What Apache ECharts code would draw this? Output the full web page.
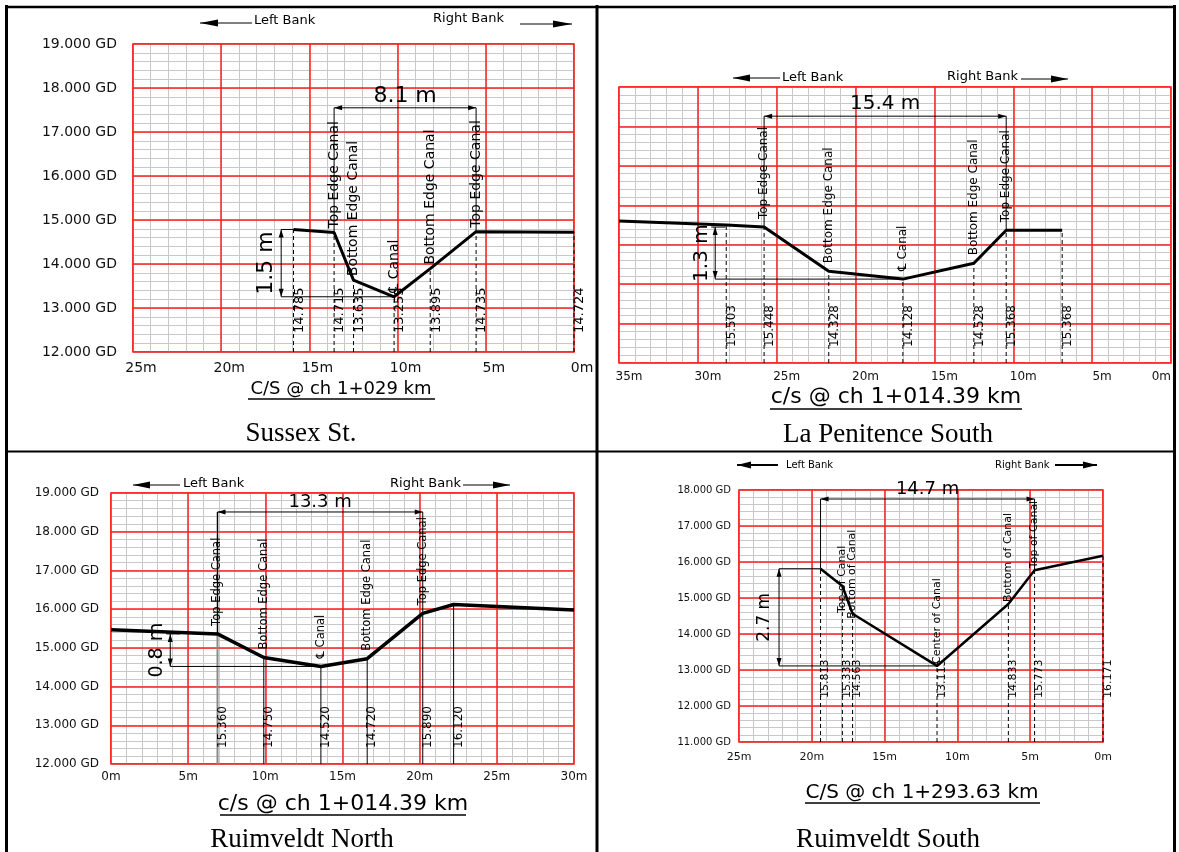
<!DOCTYPE html>
<html><head><meta charset="utf-8">
<script src="https://cdn.jsdelivr.net/npm/echarts@6/dist/echarts.min.js"></script>
<style>html,body{margin:0;padding:0;background:#fff}#c{width:1179px;height:852px}</style>
</head><body><div id="c"></div>
<script>
// ---------- Panel 1 : Sussex St. ----------
const p1Dist  = [15.9, 13.6, 12.5, 10.2, 8.15, 5.55, 0];
const p1Elev  = [14.785, 14.715, 13.635, 13.255, 13.895, 14.735, 14.724];
const p1Tags  = ['14.785', '14.715', '13.635', '13.255', '13.895', '14.735', '14.724'];
const p1Notes = ['', 'Top Edge Canal', 'Bottom Edge Canal', '\u2104 Canal', 'Bottom Edge Canal', 'Top Edge Canal', ''];
const p1XTicks = [0, 5, 10, 15, 20, 25];
const p1YTicks = [12, 13, 14, 15, 16, 17, 18, 19];
const p1Dims  = ['8.1 m', '1.5 m'];

// ---------- Panel 2 : La Penitence South ----------
const p2Dist  = [35, 28.2, 25.8, 21.7, 17.0, 12.5, 10.45, 6.9];
const p2Elev  = [15.6, 15.503, 15.448, 14.328, 14.128, 14.528, 15.368, 15.368];
const p2Tags  = ['', '15.503', '15.448', '14.328', '14.128', '14.528', '15.368', '15.368'];
const p2Notes = ['', '', 'Top Edge Canal', 'Bottom Edge Canal', '\u2104 Canal', 'Bottom Edge Canal', 'Top Edge Canal', ''];
const p2XTicks = [0, 5, 10, 15, 20, 25, 30, 35];
const p2YTicks = [12, 13, 14, 15, 16, 17, 18, 19];
const p2Dims  = ['15.4 m', '1.3 m'];

// ---------- Panel 3 : Ruimveldt North ----------
const p3Dist  = [0, 6.9, 9.9, 13.6, 16.6, 20.2, 22.2, 30];
const p3Elev  = [15.47, 15.36, 14.75, 14.52, 14.72, 15.89, 16.12, 15.98];
const p3Tags  = ['', '15.360', '14.750', '14.520', '14.720', '15.890', '16.120', ''];
const p3Notes = ['', 'Top Edge Canal', 'Bottom Edge Canal', '\u2104 Canal', 'Bottom Edge Canal', 'Top Edge Canal', '', ''];
const p3XTicks = [0, 5, 10, 15, 20, 25, 30];
const p3YTicks = [12, 13, 14, 15, 16, 17, 18, 19];
const p3Dims  = ['13.3 m', '0.8 m'];

// ---------- Panel 4 : Ruimveldt South ----------
const p4Dist  = [19.4, 17.9, 17.2, 11.4, 6.5, 4.7, 0];
const p4Elev  = [15.813, 15.333, 14.563, 13.113, 14.833, 15.773, 16.171];
const p4Tags  = ['15.813', '15.333', '14.563', '13.113', '14.833', '15.773', '16.171'];
const p4Notes = ['', 'Top of Canal', 'Bottom of Canal', 'Center of Canal', 'Bottom of Canal', 'Top of Canal', ''];
const p4XTicks = [0, 5, 10, 15, 20, 25];
const p4YTicks = [11, 12, 13, 14, 15, 16, 17, 18];
const p4Dims  = ['14.7 m', '2.7 m'];

const RED = '#ff1f1f', GREY = '#c8c8c8';
const SANS = '"DejaVu Sans", Verdana, sans-serif';
const SERIF = '"Liberation Serif", "Times New Roman", serif';

const panels = [
  { dist: p1Dist, elev: p1Elev, tags: p1Tags, notes: p1Notes, xTicks: p1XTicks, yTicks: p1YTicks, dims: p1Dims,
    inverse: true, grid: { left: 133, top: 44, width: 441, height: 308 },
    yLab: { show: true, size: 14, margin: 16 }, xLab: { size: 14, margin: 9, pad: 16 },
    lineW: 3, dashed: true, tagFont: 13, tagDx: 6, tagDy: 19, noteFont: 14, noteGap: 4, noteShift: {},
    wdim: { from: 1, to: 5, level: 17.55, font: 22, off: 12 },
    ddim: { top: 0, bottom: 3, at: 16.6, font: 22, off: 15, tick: false } },
  { dist: p2Dist, elev: p2Elev, tags: p2Tags, notes: p2Notes, xTicks: p2XTicks, yTicks: p2YTicks, dims: p2Dims,
    inverse: true, grid: { left: 619, top: 87, width: 552, height: 276 },
    yLab: { show: false }, xLab: { size: 12, margin: 8, pad: 20, alignMax: 'right' },
    lineW: 3, dashed: true, tagFont: 12, tagDx: 6, tagDy: 16, noteFont: 12, noteGap: 8, noteShift: {},
    wdim: { from: 2, to: 6, level: 18.26, font: 20, off: 12 },
    ddim: { top: 2, bottom: 4, at: 28.9, font: 20, off: 13, tick: true } },
  { dist: p3Dist, elev: p3Elev, tags: p3Tags, notes: p3Notes, xTicks: p3XTicks, yTicks: p3YTicks, dims: p3Dims,
    inverse: false, grid: { left: 111, top: 493, width: 463, height: 271 },
    yLab: { show: true, size: 12, margin: 12 }, xLab: { size: 12, margin: 7, pad: 0 },
    lineW: 3.5, dashed: false, greyIdx: 1, tagFont: 12, tagDx: 5, tagDy: 16, noteFont: 11.5, noteGap: 8, noteShift: {},
    wdim: { from: 1, to: 5, level: 18.51, font: 18, off: 10 },
    ddim: { top: 1, bottom: 3, at: 3.84, font: 19, off: 13, tick: true } },
  { dist: p4Dist, elev: p4Elev, tags: p4Tags, notes: p4Notes, xTicks: p4XTicks, yTicks: p4YTicks, dims: p4Dims,
    inverse: true, grid: { left: 739, top: 490, width: 364, height: 252 },
    yLab: { show: true, size: 10, margin: 8 }, xLab: { size: 11, margin: 10, pad: 0 },
    lineW: 2.5, dashed: true, tagFont: 11, tagDx: 5, tagDy: 44, noteFont: 11, noteGap: 2, noteShift: { 1: -29, 2: -7 },
    wdim: { from: 0, to: 5, level: 17.75, font: 18, off: 10 },
    ddim: { top: 0, bottom: 3, at: 22.25, font: 17, off: 14, tick: false } }
];

function seg(x1, y1, x2, y2, st) {
  return { type: 'line', shape: { x1, y1, x2, y2 }, style: Object.assign({ stroke: '#000', lineWidth: 1 }, st || {}) };
}
function head(tx, ty, fx, fy, len, half) {
  const dx = tx - fx, dy = ty - fy, L = Math.hypot(dx, dy) || 1, ux = dx / L, uy = dy / L;
  const bx = tx - ux * len, by = ty - uy * len;
  return { type: 'polygon', shape: { points: [[tx, ty], [bx - uy * half, by + ux * half], [bx + uy * half, by - ux * half]] }, style: { fill: '#000' } };
}
function vtext(x, y, text, size, align) {
  return { type: 'text', x, y, rotation: Math.PI / 2,
    style: { text, fontSize: size, fontFamily: SANS, fill: '#000', align: align || 'left', textAlign: align || 'left', verticalAlign: 'middle', textVerticalAlign: 'middle' } };
}

const option = { animation: false, backgroundColor: '#fff', grid: [], xAxis: [], yAxis: [], series: [], graphic: { elements: [] } };
const hidden = { axisLine: { show: false }, axisTick: { show: false }, axisLabel: { show: false } };

panels.forEach((P, k) => {
  // right-to-left chainage is drawn on a negated axis (labels show the distance)
  const X = d => (P.inverse ? -d : d);
  option.grid.push(Object.assign({ show: true, borderColor: RED, borderWidth: 1.5, backgroundColor: '#fff' }, P.grid));
  const xs = P.xTicks, ys = P.yTicks;
  const xmin = P.inverse ? -xs[xs.length - 1] : xs[0];
  const xmax = P.inverse ? -xs[0] : xs[xs.length - 1];
  const xi = xs[1] - xs[0], yi = ys[1] - ys[0];
  // main axes (red grid + labels) : index 2k ; minor axes (grey grid) : index 2k+1
  option.xAxis.push({
    type: 'value', gridIndex: k, position: 'bottom', z: 2, min: xmin, max: xmax, interval: xi,
    axisLine: { show: false }, axisTick: { show: false },
    splitLine: { show: true, lineStyle: { color: RED, width: 1.5 } },
    axisLabel: { show: true, fontSize: P.xLab.size, fontFamily: SANS, color: '#111', margin: P.xLab.margin,
      padding: [0, 0, 0, P.xLab.pad], formatter: v => Math.abs(v) + 'm', alignMaxLabel: P.xLab.alignMax || null }
  });
  option.xAxis.push(Object.assign({
    type: 'value', gridIndex: k, position: 'top', z: 1, min: xmin, max: xmax, interval: xi / 5,
    splitLine: { show: true, lineStyle: { color: GREY, width: 1 } } }, hidden));
  option.yAxis.push({
    type: 'value', gridIndex: k, position: 'left', z: 2, min: ys[0], max: ys[ys.length - 1], interval: yi,
    axisLine: { show: false }, axisTick: { show: false },
    splitLine: { show: true, lineStyle: { color: RED, width: 1.5 } },
    axisLabel: { show: P.yLab.show, fontSize: P.yLab.size, fontFamily: SANS, color: '#111', margin: P.yLab.margin,
      formatter: v => v.toFixed(3) + ' GD' }
  });
  option.yAxis.push(Object.assign({
    type: 'value', gridIndex: k, position: 'right', z: 1, min: ys[0], max: ys[ys.length - 1], interval: yi / 5,
    splitLine: { show: true, lineStyle: { color: GREY, width: 1 } } }, hidden));

  const ax = 2 * k;
  const yMin = ys[0];
  const pts = P.dist.map((d, i) => [X(d), P.elev[i]]);
  // vertical reference lines, elevation tags and notes
  option.series.push({
    type: 'custom', xAxisIndex: ax, yAxisIndex: ax, z: 3, silent: true, data: pts,
    renderItem: (params, api) => {
      const i = params.dataIndex;
      const pt = api.coord([api.value(0), api.value(1)]);
      const base = api.coord([api.value(0), yMin]);
      const ch = [];
      if (P.tags[i]) {
        let st = P.dashed ? { lineDash: [4, 3] } : {};
        let topY = pt[1];
        if (P.greyIdx === i) {
          st = { stroke: '#8a8a8a', lineWidth: 2 };
          topY = api.coord([api.value(0), P.wdim.level])[1];
        }
        ch.push(seg(pt[0], base[1], pt[0], topY, st));
        ch.push(vtext(pt[0] + P.tagDx, base[1] - P.tagDy, P.tags[i], P.tagFont, 'left'));
      }
      if (P.notes[i]) ch.push(vtext(pt[0], pt[1] - P.noteGap - (P.noteShift[i] || 0), P.notes[i], P.noteFont, 'left'));
      return { type: 'group', children: ch };
    }
  });
  // dimension lines
  option.series.push({
    type: 'custom', xAxisIndex: ax, yAxisIndex: ax, z: 4, silent: true, data: [[0, 0]],
    renderItem: (params, api) => {
      const ch = [], w = P.wdim, d = P.ddim;
      const a = api.coord([X(P.dist[w.from]), w.level]), b = api.coord([X(P.dist[w.to]), w.level]);
      const pa = api.coord(pts[w.from]), pb = api.coord(pts[w.to]);
      ch.push(seg(pa[0], pa[1], a[0], a[1]), seg(pb[0], pb[1], b[0], b[1]), seg(a[0], a[1], b[0], b[1]));
      ch.push(head(a[0], a[1], b[0], b[1], 8, 2.5), head(b[0], b[1], a[0], a[1], 8, 2.5));
      ch.push({ type: 'text', x: (a[0] + b[0]) / 2, y: a[1] - w.off,
        style: { text: P.dims[0], fontSize: w.font, fontFamily: SANS, fill: '#000', align: 'center', textAlign: 'center', verticalAlign: 'middle', textVerticalAlign: 'middle' } });
      const t = api.coord([X(d.at), P.elev[d.top]]), bt = api.coord([X(d.at), P.elev[d.bottom]]);
      const pt = api.coord(pts[d.top]), pbt = api.coord(pts[d.bottom]);
      ch.push(seg(t[0], t[1], bt[0], bt[1]));
      ch.push(head(t[0], t[1], bt[0], bt[1], 8, 2.5), head(bt[0], bt[1], t[0], t[1], 8, 2.5));
      ch.push(d.tick ? seg(t[0] - 4, t[1], t[0] + 10, t[1]) : seg(t[0], t[1], pt[0], pt[1]));
      ch.push(seg(bt[0], bt[1], pbt[0], pbt[1]));
      ch.push(vtext(t[0] - d.off, (t[1] + bt[1]) / 2, P.dims[1], d.font, 'center'));
      return { type: 'group', children: ch };
    }
  });
  // ground profile
  option.series.push({
    type: 'line', xAxisIndex: ax, yAxisIndex: ax, z: 5, silent: true, symbol: 'none', data: pts,
    lineStyle: { color: '#000', width: P.lineW }
  });
});

// ---- page furniture (borders, bank arrows, captions) ----
const G = option.graphic.elements;
function gline(x1, y1, x2, y2, lw) { G.push({ type: 'line', shape: { x1, y1, x2, y2 }, style: { stroke: '#000', lineWidth: lw || 1 } }); }
function gtext(x, y, text, size, fam, align) {
  G.push({ type: 'text', x, y, style: { text, fontSize: size, fontFamily: fam, fill: '#000', align: align || 'left', textAlign: align || 'left', verticalAlign: 'middle', textVerticalAlign: 'middle' } });
}
function garrow(x1, x2, y, left, len, half, lw) {
  gline(x1, y, x2, y, lw || 1);
  const tx = left ? x1 : x2, bx = left ? x1 + len : x2 - len;
  G.push({ type: 'polygon', shape: { points: [[tx, y], [bx, y - half], [bx, y + half]] }, style: { fill: '#000' } });
}
gline(6.5, 5, 6.5, 852, 3);
gline(5, 7, 1176, 7, 2.5);
gline(1174.5, 5, 1174.5, 852, 3);
gline(597, 5, 597, 852, 3);
gline(5, 451.5, 1176, 451.5, 2);

// bank arrows
garrow(200, 252, 23, true, 18, 3.5); gtext(254, 21, 'Left Bank', 13, SANS);
gtext(433, 19, 'Right Bank', 13, SANS); garrow(520, 572, 24, false, 19, 3.5);
garrow(733, 780, 78, true, 17, 3.5); gtext(782, 78, 'Left Bank', 13, SANS);
gtext(947, 77, 'Right Bank', 13, SANS); garrow(1021, 1068, 79, false, 17, 3.5);
garrow(133, 180, 485, true, 17, 3.5); gtext(183, 484, 'Left Bank', 13, SANS);
gtext(390, 484, 'Right Bank', 13, SANS); garrow(463, 510, 485, false, 17, 3.5);
garrow(737, 778, 465, true, 14, 3.5, 2); gtext(786, 465, 'Left Bank', 10, SANS);
gtext(995, 465, 'Right Bank', 10, SANS); garrow(1055, 1097, 465, false, 14, 3.5, 2);

// axis captions (underlined)
gtext(341, 389, 'C/S @ ch 1+029 km', 18, SANS, 'center'); gline(248, 399, 435, 399, 1.5);
gtext(896, 397, 'c/s @ ch 1+014.39 km', 22, SANS, 'center'); gline(770, 409, 1022, 409, 1.5);
gtext(343, 804, 'c/s @ ch 1+014.39 km', 22, SANS, 'center'); gline(220, 815, 466, 815, 1.5);
gtext(922, 793, 'C/S @ ch 1+293.63 km', 20, SANS, 'center'); gline(805, 803, 1040, 803, 1.5);

// panel titles
gtext(301, 434, 'Sussex St.', 27, SERIF, 'center');
gtext(888, 435, 'La Penitence South', 27, SERIF, 'center');
gtext(302, 840, 'Ruimveldt North', 27, SERIF, 'center');
gtext(888, 840, 'Ruimveldt South', 27, SERIF, 'center');

const chart = echarts.init(document.getElementById('c'), null, { renderer: 'canvas' });
chart.setOption(option);
</script>
</body></html>
